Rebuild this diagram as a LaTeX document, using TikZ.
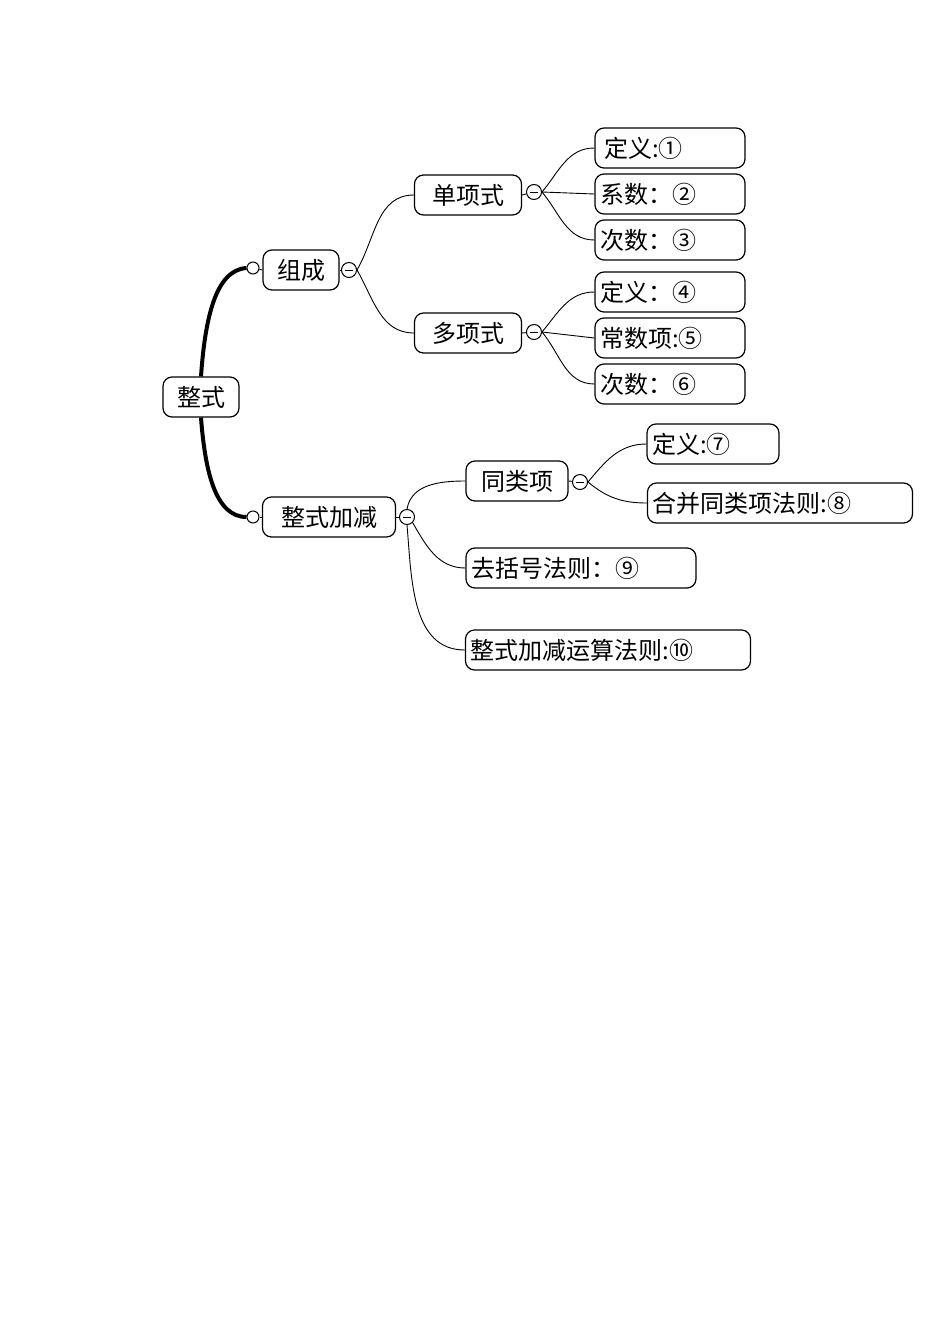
\documentclass[tikz,border=0pt]{standalone}
\usepackage{fontspec}
\setmainfont{Noto Sans CJK SC}
\begin{document}
\begin{tikzpicture}[x=1pt,y=-1pt,
  box/.style={draw,line width=1.2pt,rounded corners=9pt,inner sep=5pt,font=\fontsize{24}{26}\selectfont,minimum height=40pt,align=left},
  mc/.style={draw,line width=1pt,circle,minimum size=15pt,inner sep=0pt,fill=white,path picture={\draw[line width=1pt] ([xshift=-4pt]path picture bounding box.center)--([xshift=4pt]path picture bounding box.center);}},
  oc/.style={draw,line width=1pt,circle,minimum size=12pt,inner sep=0pt,fill=white},
  ln/.style={line width=0.9pt},
  thk/.style={line width=4pt}]
\useasboundingbox (0,0) rectangle (950,1344);
\node[box,text width=66pt,align=center] (root) at (201,397) {整式};
\node[box,text width=66pt,align=center] (zc) at (301,270) {组成};
\node[box,text width=123pt,align=center] (jj) at (329,517) {整式加减};
\node[oc] (zco) at (253,268) {};
\node[mc] (zcm) at (349,270) {};
\node[oc] (jjo) at (253,517) {};
\node[mc] (jjm) at (407,517) {};
\node[box,text width=97pt,align=center] (dan) at (468,195) {单项式};
\node[box,text width=97pt,align=center] (duo) at (468,333) {多项式};
\node[mc] (danm) at (534,192) {};
\node[mc] (duom) at (534,332) {};
\node[box,text width=140pt] (a1) at (670,148) {\,定义:①};
\node[box,text width=140pt] (a2) at (670,194) {系数：②};
\node[box,text width=140pt] (a3) at (670,240) {次数：③};
\node[box,text width=140pt] (a4) at (670,292) {定义：④};
\node[box,text width=140pt] (a5) at (670,338) {常数项:⑤};
\node[box,text width=140pt] (a6) at (670,384) {次数：⑥};
\node[box,text width=92pt,align=center] (tl) at (517,481) {同类项};
\node[mc] (tlm) at (580,482) {};
\node[box,text width=122pt] (a7) at (713,444) {定义:⑦};
\node[box,text width=255pt] (a8) at (780,503) {合并同类项法则:⑧};
\node[box,text width=220pt] (a9) at (581,568) {去括号法则：⑨};
\node[box,text width=275pt] (a10) at (608,650) {整式加减运算法则:⑩};
% thick trunk
\draw[thk] (root.north) .. controls (205,320) and (215,270) .. (zco.west);
\draw[thk] (root.south) .. controls (205,470) and (215,517) .. (jjo.west);
\draw[ln] (zco) -- (zc.west);
\draw[ln] (jjo) -- (jj.west);
\draw[ln] (zc.east) -- (zcm);
\draw[ln] (jj.east) -- (jjm);
\draw[ln] (dan.east) -- (danm);
\draw[ln] (duo.east) -- (duom);
\draw[ln] (tl.east) -- (tlm);
% branches
\draw[ln] (zcm.east) to[out=60,in=180] (dan.west);
\draw[ln] (zcm.east) to[out=-60,in=180] (duo.west);
\draw[ln] (danm.east) to[out=50,in=180] (a1.west);
\draw[ln] (danm.east) -- (a2.west);
\draw[ln] (danm.east) to[out=-50,in=180] (a3.west);
\draw[ln] (duom.east) to[out=50,in=180] (a4.west);
\draw[ln] (duom.east) -- (a5.west);
\draw[ln] (duom.east) to[out=-50,in=180] (a6.west);
\draw[ln] (tlm.east) to[out=50,in=180] (a7.west);
\draw[ln] (tlm.east) to[out=-40,in=180] (a8.west);
\draw[ln] (jjm.north) to[out=80,in=180] (tl.west);
\draw[ln] (jjm.south east) to[out=-60,in=180] (a9.west);
\draw[ln] (jjm.south) to[out=-85,in=180] (a10.west);
\end{tikzpicture}
\end{document}
